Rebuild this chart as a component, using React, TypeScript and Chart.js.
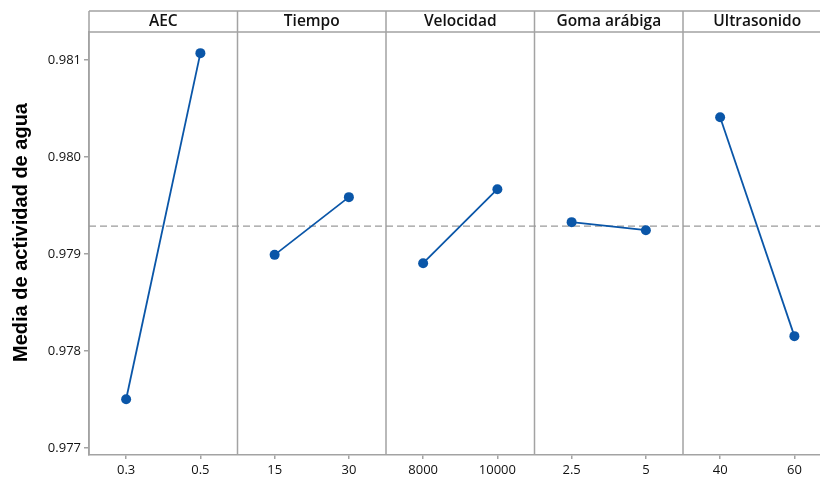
import React, { useEffect, useRef } from 'react';
import { Chart, registerables } from 'chart.js';
Chart.register(...registerables);

const factors = ['AEC', 'Tiempo', 'Velocidad', 'Goma arábiga', 'Ultrasonido'];
const levelLabels = [['0.3', '0.5'], ['15', '30'], ['8000', '10000'], ['2.5', '5'], ['40', '60']];
const aecMeans = [0.977505, 0.981072];
const tiempoMeans = [0.978993, 0.979588];
const velocidadMeans = [0.978907, 0.97967];
const gomaMeans = [0.97933, 0.979247];
const ultrasonidoMeans = [0.980412, 0.978155];
const grandMean = 0.97929;
const yTicks = [0.977, 0.978, 0.979, 0.98, 0.981];
const yTitle = 'Media de actividad de agua';

const allMeans = [aecMeans, tiempoMeans, velocidadMeans, gomaMeans, ultrasonidoMeans];
const flatLabels = levelLabels.flat();
const X_MAX = 9.845;
const BLUE = '#0a56a8';
const FRAME = '#a3a3a3';

const panelPlugin = {
  id: 'panels',
  beforeDatasetsDraw(chart: any) {
    const { ctx, chartArea, scales } = chart;
    const { left, right, top, bottom } = chartArea;
    const x = scales.x;
    const stripTop = top - 21;
    ctx.save();
    ctx.strokeStyle = FRAME;
    ctx.lineWidth = 1.5;
    ctx.beginPath();
    ctx.moveTo(left, stripTop);
    ctx.lineTo(right, stripTop);
    ctx.moveTo(left, top);
    ctx.lineTo(right, top);
    for (let i = 0; i < factors.length; i++) {
      const px = x.getPixelForValue(2 * i);
      if (px > right) continue;
      ctx.moveTo(px, stripTop);
      ctx.lineTo(px, bottom);
    }
    ctx.stroke();
    ctx.fillStyle = '#111';
    ctx.font = '600 15.5px "Open Sans"';
    ctx.textAlign = 'center';
    ctx.textBaseline = 'middle';
    for (let i = 0; i < factors.length; i++) {
      const cx = x.getPixelForValue(2 * i + 1);
      ctx.fillText(factors[i], cx, (stripTop + top) / 2 + 0.5);
    }
    // y axis title
    ctx.save();
    ctx.translate(21, (top + bottom) / 2 - 11);
    ctx.rotate(-Math.PI / 2);
    ctx.fillStyle = '#000';
    ctx.font = 'bold 20px "Liberation Sans"';
    ctx.fillText(yTitle, 0, 0);
    ctx.restore();
    ctx.restore();
  },
};

export default function App() {
  const ref = useRef<HTMLCanvasElement>(null);
  useEffect(() => {
    if (!ref.current) return;
    const datasets: any[] = allMeans.map((m, i) => ({
      label: factors[i],
      data: m.map((v, j) => ({ x: 2 * i + 0.5 + j, y: v })),
      borderColor: BLUE,
      backgroundColor: BLUE,
      borderWidth: 1.8,
      pointRadius: 5,
      pointHoverRadius: 5,
      pointBorderWidth: 0,
      order: 0,
    }));
    datasets.push({
      label: 'Media',
      data: [
        { x: 0, y: grandMean },
        { x: X_MAX, y: grandMean },
      ],
      borderColor: '#9a9a9a',
      borderWidth: 1.3,
      borderDash: [7, 4],
      pointRadius: 0,
      order: 10,
    });
    const chart = new Chart(ref.current, {
      type: 'line',
      data: { datasets },
      plugins: [panelPlugin],
      options: {
        animation: false,
        responsive: false,
        layout: { autoPadding: false, padding: { top: 32, right: 0, left: 0, bottom: 0 } },
        plugins: { legend: { display: false }, tooltip: { enabled: false } },
        scales: {
          x: {
            type: 'linear',
            min: 0,
            max: X_MAX,
            afterBuildTicks: (scale: any) => {
              scale.ticks = flatLabels.map((_, k) => ({ value: Math.floor(k / 2) * 2 + 0.5 + (k % 2) }));
            },
            afterFit: (scale: any) => {
              scale.height = 26;
              scale.paddingLeft = 0;
              scale.paddingRight = 0;
            },
            ticks: {
              autoSkip: false,
              maxRotation: 0,
              padding: 3,
              color: '#111',
              font: { family: '"Open Sans"', size: 13 },
              callback: (_v: any, idx: number) => flatLabels[idx],
            },
            grid: { drawOnChartArea: false, drawTicks: true, tickLength: 4, color: FRAME, lineWidth: 1.5 },
            border: { display: true, color: FRAME, width: 1.5 },
          },
          y: {
            type: 'linear',
            min: 0.97693,
            max: 0.98129,
            afterBuildTicks: (scale: any) => {
              scale.ticks = yTicks.map((v) => ({ value: v }));
            },
            afterFit: (scale: any) => {
              scale.width = 89;
              scale.paddingTop = 0;
              scale.paddingBottom = 0;
            },
            ticks: {
              padding: 3,
              color: '#111',
              font: { family: '"Open Sans"', size: 13 },
              callback: (v: any) => Number(v).toFixed(3),
            },
            grid: { drawOnChartArea: false, drawTicks: true, tickLength: 5, color: FRAME, lineWidth: 1.5 },
            border: { display: true, color: FRAME, width: 1.5 },
          },
        },
      },
    } as any);
    return () => chart.destroy();
  }, []);
  return (
    <div style={{ position: 'fixed', left: 0, top: 0, width: 820, height: 481, overflow: 'hidden', background: '#fff' }}>
      <canvas ref={ref} width={820} height={481} style={{ display: 'block' }} />
    </div>
  );
}
